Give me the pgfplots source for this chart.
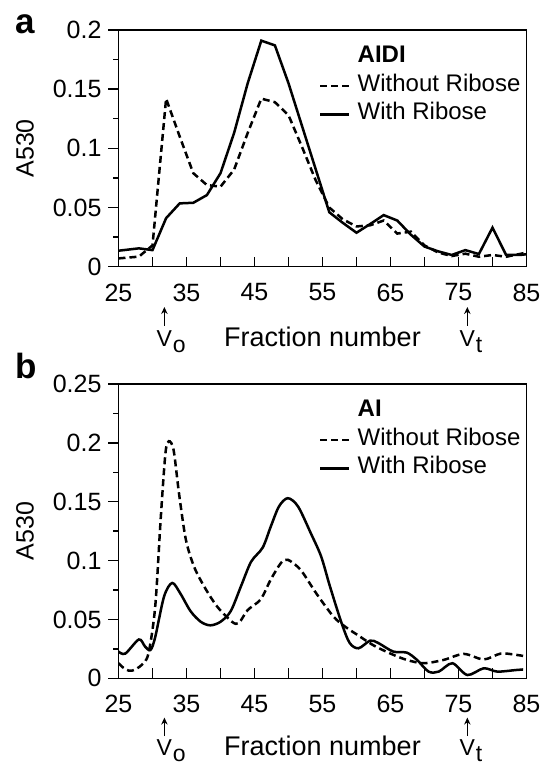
\documentclass[border=0pt]{standalone}
\usepackage{fontspec}
\setmainfont{Liberation Sans}
\usepackage{pgfplots}
\pgfplotsset{compat=1.18}
\usetikzlibrary{arrows.meta}

\tikzset{
  vmark/.style={font=\fontsize{11.5}{13}\selectfont, inner sep=0pt},
  varrow/.style={line width=0.7pt, -{Stealth[length=3.5pt,width=3.2pt]}},
}

\pgfplotsset{
  chrom/.style={
    scale only axis, width=204pt,
    xmin=25, xmax=85,
    clip mode=individual,
    no markers,
    xtick={25,30,...,85},
    xticklabels={25,,35,,45,,55,,65,,75,,85},
    tick align=outside, major tick length=5pt, minor tick length=2.5pt,
    xtick pos=bottom, ytick pos=left,
    xtick style={yshift=5pt},
    tick style={line width=0.7pt, black},
    minor y tick num=1,
    axis line style={line width=0.8pt},
    ticklabel style={font=\fontsize{12.5}{14}\selectfont},
    /pgf/number format/assume math mode=true,
    ylabel={A530},
    ylabel style={at={([xshift=-46.75pt]axis description cs:0,0.5)}, anchor=center, font=\fontsize{12.5}{14}\selectfont},
    xlabel={Fraction number},
    xlabel style={at={([yshift=-40.15pt]axis description cs:0.5,0)}, anchor=base, font=\fontsize{13.5}{15}\selectfont},
    legend cell align=left,
    legend style={draw=none, fill=none, at={(0.491,1)}, anchor=north west, yshift=-7.5pt,
      inner sep=0pt, font=\fontsize{12}{14}\selectfont, row sep=2.25pt, column sep=3.5pt,
      nodes={inner sep=0pt, text height=8.6pt, text depth=3.4pt}},
    legend image code/.code={\draw[#1] (0pt,0pt) -- (14.5pt,0pt);},
  },
  without/.style={black, line width=1.25pt, dash pattern=on 3.5pt off 2pt},
  with/.style={black, line width=1.25pt, solid},
}

\begin{document}
\begin{tikzpicture}
\useasboundingbox (-59.25pt,-248.65pt) rectangle (211.25pt,133.35pt);

% panel a
\begin{axis}[chrom, height=118.35pt, ymin=0, ymax=0.2,
  ytick={0,0.05,0.1,0.15,0.2}, yticklabels={0,0.05,0.1,0.15,0.2}]
\addlegendimage{empty legend}
\addlegendentry{\textbf{AIDI}}
\addplot[without] coordinates {
(25,0.007) (28,0.0085) (30,0.018) (32,0.142) (34,0.110) (36,0.079) (38,0.069)
(40,0.0676) (42,0.082) (44,0.113) (46,0.142) (48,0.139) (50,0.128) (52,0.101)
(54,0.073) (56,0.050) (58,0.040) (60,0.034) (62,0.035) (64,0.039) (66,0.028)
(68,0.0296) (70,0.018) (72,0.012) (74,0.009) (76,0.011) (78,0.0084) (80,0.0099)
(82,0.0084) (84,0.0107) (85,0.012)};
\addlegendentry{Without Ribose}
\addplot[with] coordinates {
(25,0.0135) (28,0.0155) (30,0.014) (32,0.041) (34,0.0535) (36,0.054) (38,0.0605)
(40,0.079) (42,0.113) (44,0.155) (46,0.191) (48,0.187) (50,0.155) (56,0.046)
(58,0.037) (60,0.0287) (62,0.036) (64,0.0436) (66,0.039) (68,0.027) (70,0.017)
(72,0.013) (74,0.0099) (76,0.014) (78,0.0107) (80,0.033) (82,0.0099) (84,0.0099)
(85,0.0105)};
\addlegendentry{With Ribose}
\draw[varrow] ([yshift=-29.65pt]axis cs:31.75,0) -- ([yshift=-20.15pt]axis cs:31.75,0);
\draw[varrow] ([yshift=-29.65pt]axis cs:76.3,0) -- ([yshift=-20.15pt]axis cs:76.3,0);
\node[vmark, anchor=base] (vo) at ([yshift=-40.15pt]axis cs:31.75,0) {V};
\node[vmark, anchor=base west] at ([yshift=-3pt]vo.base east) {o};
\node[vmark, anchor=base] (vt) at ([yshift=-40.15pt]axis cs:76.3,0) {V};
\node[vmark, anchor=base west] at ([yshift=-3pt]vt.base east) {t};
\end{axis}

% panel b
\begin{axis}[chrom, at={(0pt,-205.8pt)}, height=147.15pt, ymin=0, ymax=0.25,
  ytick={0,0.05,0.1,0.15,0.2,0.25}, yticklabels={0,0.05,0.1,0.15,0.2,0.25},
  xlabel style={at={([yshift=-38.4pt]axis description cs:0.5,0)}}]
\addlegendimage{empty legend}
\addlegendentry{\textbf{AI}}
\addplot[without, smooth, tension=0.5] coordinates {
(25,0.0128) (26,0.0077) (27,0.0065) (28.4,0.0113) (29.4,0.021) (30.4,0.061)
(31.2,0.135) (31.9,0.191) (32.4,0.2014) (33.1,0.194) (33.9,0.157) (34.9,0.118)
(36.1,0.095) (37.6,0.078) (39.5,0.061) (41.7,0.048) (42.7,0.047) (44,0.058)
(45.9,0.067) (47.4,0.084) (48.9,0.098) (49.9,0.1007) (51.8,0.092) (54.1,0.072)
(56.6,0.0525) (58.3,0.044) (60.5,0.0355) (62.5,0.028) (65,0.021) (67.4,0.0156)
(69.9,0.0128) (72.8,0.0156) (75.8,0.0207) (78.7,0.016) (81.2,0.021) (83.4,0.020)
(84.5,0.019)};
\addlegendentry{Without Ribose}
\addplot[with, smooth, tension=0.5] coordinates {
(25,0.0227) (26,0.021) (28,0.033) (28.9,0.027) (29.7,0.024) (30.4,0.035)
(31.7,0.0695) (32.9,0.081) (34.1,0.072) (35.6,0.057) (37.1,0.048) (38.5,0.045)
(40,0.048) (41.5,0.057) (43,0.078) (44.5,0.099) (46.2,0.111) (47.4,0.129)
(48.6,0.146) (49.9,0.153) (51.4,0.146) (53.3,0.123) (54.8,0.1035) (56.1,0.078)
(57.8,0.047) (59,0.030) (60.3,0.0255) (62,0.032) (63.2,0.030) (65.4,0.0227)
(67.4,0.0218) (68.9,0.0156) (70.6,0.0057) (72.1,0.0057) (74.1,0.0128)
(76.3,0.0028) (78.7,0.0085) (80.7,0.0057) (83.4,0.007) (84.5,0.0075)};
\addlegendentry{With Ribose}
\draw[varrow] ([yshift=-28.9pt]axis cs:31.75,0) -- ([yshift=-19.65pt]axis cs:31.75,0);
\draw[varrow] ([yshift=-28.9pt]axis cs:76.3,0) -- ([yshift=-19.65pt]axis cs:76.3,0);
\node[vmark, anchor=base] (vo) at ([yshift=-38.4pt]axis cs:31.75,0) {V};
\node[vmark, anchor=base west] at ([yshift=-3pt]vo.base east) {o};
\node[vmark, anchor=base] (vt) at ([yshift=-38.4pt]axis cs:76.3,0) {V};
\node[vmark, anchor=base west] at ([yshift=-3pt]vt.base east) {t};
\end{axis}

\node[anchor=base west, inner sep=0pt, font=\fontsize{17.5}{20}\selectfont\bfseries] at (-51.75pt,116.7pt) {a};
\node[anchor=base west, inner sep=0pt, font=\fontsize{17.5}{20}\selectfont\bfseries] at (-51.75pt,-56.15pt) {b};
\end{tikzpicture}
\end{document}
